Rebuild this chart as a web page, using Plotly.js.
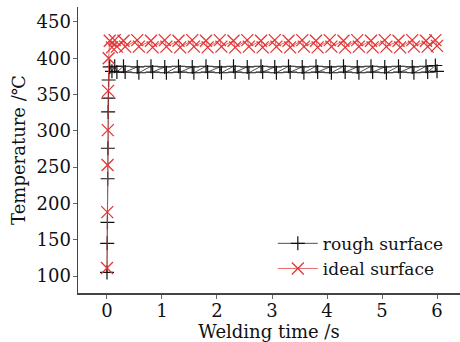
<!DOCTYPE html>
<html><head><meta charset="utf-8">
<script src="https://cdn.plot.ly/plotly-3.0.1.min.js"></script>
<style>html,body{margin:0;padding:0;background:#fff}#chart{width:460px;height:342px}</style>
</head><body><div id="chart"></div>
<script>
// Welding time (s) and temperature (°C)
const roughTime = [0, 0.004, 0.008, 0.012, 0.016, 0.02, 0.026, 0.03,
  0.05, 0.09, 0.14, 0.18, 0.3, 0.33, 0.55, 0.58, 0.8, 0.83, 1.05, 1.08, 1.3, 1.33, 1.55, 1.58,
  1.8, 1.83, 2.05, 2.08, 2.3, 2.33, 2.55, 2.58, 2.8, 2.83, 3.05, 3.08, 3.3, 3.33, 3.55, 3.58,
  3.8, 3.83, 4.05, 4.08, 4.3, 4.33, 4.55, 4.58, 4.8, 4.83, 5.05, 5.08, 5.3, 5.33, 5.55, 5.58,
  5.8, 5.83, 5.97, 6.0];
const roughTemp = [105, 145, 174, 234, 276, 326, 345, 370,
  388, 382, 389, 381, 389, 381, 388, 380, 389, 381, 388, 380, 389, 381, 388, 380,
  389, 381, 388, 380, 389, 381, 388, 380, 389, 381, 388, 380, 389, 381, 388, 380,
  389, 381, 388, 380, 389, 381, 388, 380, 389, 381, 388, 380, 389, 381, 388, 380,
  389, 381, 390, 382];
const idealTime = [0, 0.005, 0.01, 0.015, 0.02, 0.03,
  0.05, 0.09, 0.14, 0.18, 0.3, 0.33, 0.55, 0.58, 0.8, 0.83, 1.05, 1.08, 1.3, 1.33, 1.55, 1.58,
  1.8, 1.83, 2.05, 2.08, 2.3, 2.33, 2.55, 2.58, 2.8, 2.83, 3.05, 3.08, 3.3, 3.33, 3.55, 3.58,
  3.8, 3.83, 4.05, 4.08, 4.3, 4.33, 4.55, 4.58, 4.8, 4.83, 5.05, 5.08, 5.3, 5.33, 5.55, 5.58,
  5.8, 5.83, 5.97, 6.0];
const idealTemp = [111, 188, 253, 301, 355, 400,
  424, 415, 425, 416, 424, 416, 425, 416, 424, 415, 425, 416, 424, 415, 425, 416,
  424, 415, 425, 416, 424, 415, 425, 416, 424, 415, 425, 416, 424, 415, 425, 416,
  424, 415, 425, 416, 424, 415, 425, 416, 424, 415, 425, 416, 424, 415, 425, 416,
  424, 416, 425, 417];
const seriesNames = ['rough surface', 'ideal surface'];
const xTicks = [0, 1, 2, 3, 4, 5, 6];
const yTicks = [100, 150, 200, 250, 300, 350, 400, 450];

const font = {family: 'DejaVu Serif, serif', size: 18, color: '#111'};
const legendFont = {family: 'DejaVu Serif, serif', size: 17, color: '#111'};
const traces = [
  {x: roughTime, y: roughTemp, name: seriesNames[0], type: 'scatter', mode: 'lines+markers',
   line: {color: '#222', width: 0.8},
   marker: {symbol: 'cross-thin', size: 10, line: {color: '#111', width: 1.2}, color: '#111'}},
  {x: idealTime, y: idealTemp, name: seriesNames[1], type: 'scatter', mode: 'lines+markers',
   line: {color: '#e04545', width: 0.8},
   marker: {symbol: 'x-thin', size: 12, line: {color: '#e53535', width: 1.3}, color: '#e53535'}}
];
const layout = {
  width: 460, height: 342,
  margin: {l: 78, r: 0, t: 7, b: 49},
  paper_bgcolor: '#fff', plot_bgcolor: '#fff',
  font: font,
  showlegend: true,
  legend: {x: 0.51, y: 0.235, xanchor: 'left', yanchor: 'top', bgcolor: 'rgba(0,0,0,0)',
    font: legendFont, tracegroupgap: 0, itemwidth: 40},
  xaxis: {range: [-0.527, 6.418], tickvals: xTicks, ticktext: xTicks.map(String),
    showgrid: false, zeroline: false, showline: true, linecolor: '#444', linewidth: 1.5,
    ticks: 'outside', ticklen: 4, tickcolor: '#666', tickfont: font, ticklabelstandoff: -3,
    title: {text: 'Welding time /s', font: font, standoff: 0}},
  yaxis: {range: [76.6, 470.6], tickvals: yTicks, ticktext: yTicks.map(String),
    showgrid: false, zeroline: false, showline: true, linecolor: '#444', linewidth: 1.5,
    ticks: 'outside', ticklen: 4, tickcolor: '#666', tickfont: font, ticklabelstandoff: -2,
    title: {text: 'Temperature /℃', font: font, standoff: 6}}
};
Plotly.newPlot('chart', traces, layout, {displayModeBar: false, staticPlot: true});
</script></body></html>
